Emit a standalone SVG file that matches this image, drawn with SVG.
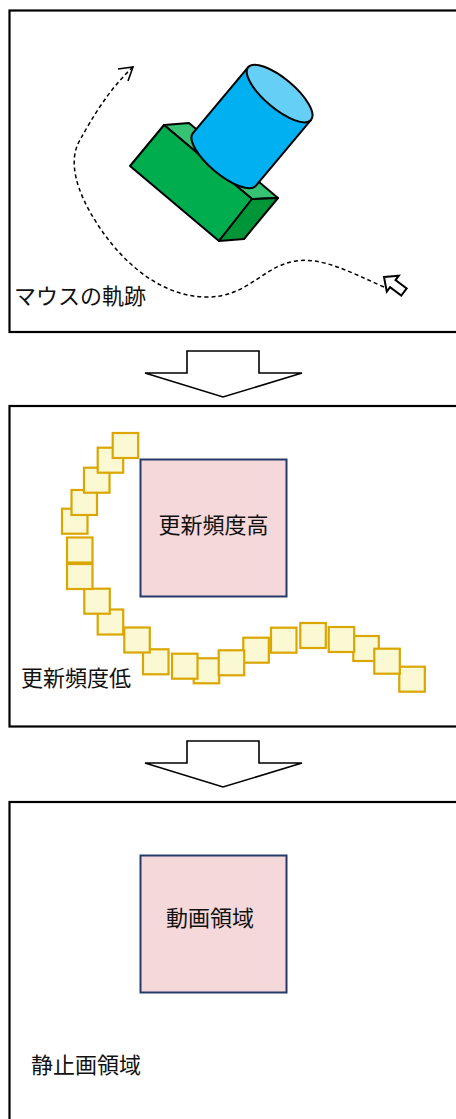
<svg xmlns="http://www.w3.org/2000/svg" width="456" height="1119" viewBox="0 0 456 1119">
  <defs>
    <style>
      .panel { fill: #ffffff; stroke: #000000; stroke-width: 2.2; }
      .step { fill: #ffffff; stroke: #000000; stroke-width: 1.6; stroke-linejoin: miter; }
      .region { fill: #f5d8da; stroke: #243b6b; stroke-width: 2; }
      .tile { fill: #fbf9d4; stroke: #daa600; stroke-width: 2.2; }
      .label { font-family: "Liberation Sans", "Noto Sans CJK JP", sans-serif; font-size: 22px; fill: #111111; }
      .ink { stroke: #000000; stroke-width: 2; stroke-linejoin: round; }
    </style>
  </defs>

  <!-- Panel 1: mouse trail over a 3D object -->
  <g id="panel-trail">
    <rect class="panel" x="9.5" y="10.5" width="470" height="321.5"/>

    <!-- box-shaped body -->
    <g id="body-box">
      <polygon class="ink" fill="#36c173" points="164,125 189,123 278,198 252,199"/>
      <polygon class="ink" fill="#00ad4e" points="164,125 130,166 219,241 252,199"/>
      <polygon class="ink" fill="#009638" points="252,199 278,198 244,239 219,241"/>
    </g>

    <!-- cylinder -->
    <g id="cylinder" transform="translate(252,126.5) rotate(40)">
      <path class="ink" fill="#00b0f0" d="M -41,-43 L -41,43 A 41 15 0 0 0 41,43 L 41,-43 Z"/>
      <ellipse class="ink" fill="#66cff6" cx="0" cy="-43" rx="41" ry="15"/>
    </g>

    <!-- dashed pointer path -->
    <path fill="none" stroke="#000000" stroke-width="1.5" stroke-dasharray="4 3"
          d="M 384,287 C 350,272 322,257 296,261 C 262,266 248,298 205,297 C 160,296 122,262 98,225 C 75,190 68,160 80,140 C 92,118 110,88 133,67"/>
    <polyline fill="none" stroke="#000000" stroke-width="1.6" points="118,69 133,67 128,81"/>

    <!-- hollow pointer -->
    <g id="pointer" transform="translate(384,277) rotate(37)">
      <polygon fill="#ffffff" stroke="#000000" stroke-width="2" stroke-linejoin="miter"
               points="0,0 11,-10 11,-4.5 25,-4.5 25,4.5 11,4.5 11,10"/>
    </g>

    <text class="label" x="14" y="303.5">マウスの軌跡</text>
  </g>

  <!-- Step arrows -->
  <g id="connectors">
    <polygon class="step" points="187,351 259,351 259,373 302,373 223,397 145,373 187,373"/>
    <polygon class="step" points="187,741 259,741 259,763 302,763 223,787 145,763 187,763"/>
  </g>

  <!-- Panel 2: update frequency -->
  <g id="panel-frequency">
    <rect class="panel" x="9.5" y="406" width="470" height="320.5"/>

    <g id="high-region">
      <rect class="region" x="140.5" y="459.5" width="146" height="137"/>
      <text class="label" x="213.5" y="533" text-anchor="middle">更新頻度高</text>
    </g>

    <g id="trail-tiles">
      <rect class="tile" x="193.7" y="658.3" width="25.5" height="25"/>
      <rect class="tile" x="353.3" y="636" width="25.5" height="25"/>
      <rect class="tile" x="399.3" y="666.7" width="25.5" height="25"/>
      <rect class="tile" x="374.3" y="648.7" width="25.5" height="25"/>
      <rect class="tile" x="328.7" y="627" width="25.5" height="25"/>
      <rect class="tile" x="300.3" y="623" width="25.5" height="25"/>
      <rect class="tile" x="271" y="627.7" width="25.5" height="25"/>
      <rect class="tile" x="243.3" y="637.7" width="25.5" height="25"/>
      <rect class="tile" x="218.7" y="650.3" width="25.5" height="25"/>
      <rect class="tile" x="172" y="653.7" width="25.5" height="25"/>
      <rect class="tile" x="143" y="649.3" width="25.5" height="25"/>
      <rect class="tile" x="124.3" y="627.5" width="25.5" height="25"/>
      <rect class="tile" x="97.7" y="609.5" width="25.5" height="25"/>
      <rect class="tile" x="84.3" y="588.7" width="25.5" height="25"/>
      <rect class="tile" x="67" y="564" width="25.5" height="25"/>
      <rect class="tile" x="67" y="537.5" width="25.5" height="25"/>
      <rect class="tile" x="62" y="508.7" width="25.5" height="25"/>
      <rect class="tile" x="71.5" y="490" width="25.5" height="25"/>
      <rect class="tile" x="84" y="467.7" width="25.5" height="25"/>
      <rect class="tile" x="97.7" y="447.7" width="25.5" height="25"/>
      <rect class="tile" x="112.7" y="433" width="25.5" height="25"/>
    </g>

    <text class="label" x="21" y="686">更新頻度低</text>
  </g>

  <!-- Panel 3: moving vs still regions -->
  <g id="panel-regions">
    <rect class="panel" x="9.5" y="802" width="470" height="330"/>

    <g id="video-region">
      <rect class="region" x="140.5" y="855.5" width="146" height="137"/>
      <text class="label" x="166" y="926">動画領域</text>
    </g>

    <text class="label" x="31" y="1073">静止画領域</text>
  </g>
</svg>
